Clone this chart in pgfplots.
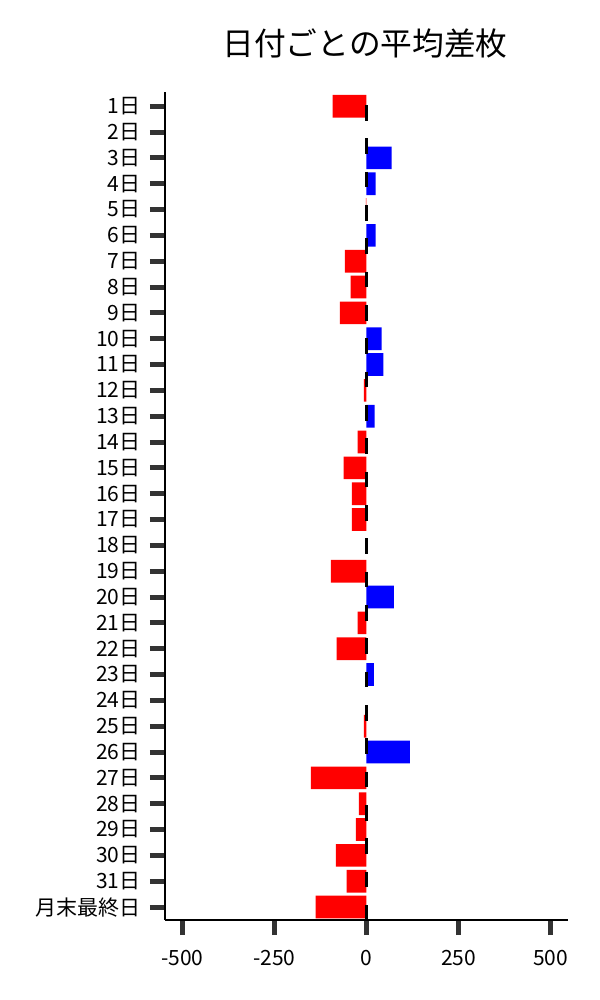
\documentclass[border=0pt]{standalone}
\usepackage{pgfplots}
\pgfplotsset{compat=1.18}
\usepackage{fontspec}
\setmainfont{Noto Sans CJK JP}
\definecolor{tickgray}{HTML}{333333}
\begin{document}
\begin{tikzpicture}
\useasboundingbox (0,0) rectangle (450pt,750pt);
\node[font=\fontsize{23.8pt}{28pt}\selectfont, anchor=center] at (273.75pt,717.75pt) {日付ごとの平均差枚};
\begin{axis}[
  at={(123.75pt,60pt)}, anchor=south west,
  scale only axis, width=302.25pt, height=621pt,
  xmin=-547, xmax=547, ymin=-0.5, ymax=31.55,
  axis x line*=bottom, axis y line*=left,
  axis line style={black, line width=0.9pt},
  xtick={-500,-250,0,250,500},
  xticklabels={-500,-250,0,250,500},
  ytick={0,...,31},
  yticklabels={月末最終日,31日,30日,29日,28日,27日,26日,25日,24日,23日,22日,21日,20日,19日,18日,17日,16日,15日,14日,13日,12日,11日,10日,9日,8日,7日,6日,5日,4日,3日,2日,1日},
  tick align=outside,
  major tick length=11.25pt,
  every tick/.style={tickgray, line width=3.75pt},
  tick label style={font=\fontsize{15.75pt}{18pt}\selectfont, black},
  xticklabel style={yshift=-8pt},
  yticklabel style={xshift=-3.5pt},
  clip=false,
]
\addplot[xbar, bar width=17pt, bar shift=0pt, fill=red, draw=none] coordinates {
(-92,31) (-2,27) (-59,25) (-43,24) (-72,23) (-7,20) (-24,18) (-62,17) (-40,16) (-40,15)
(-97,13) (-24,11) (-81,10) (-7,7) (-151,5) (-21,4) (-29,3) (-83,2) (-54,1) (-138,0)
};
\addplot[xbar, bar width=17pt, bar shift=0pt, fill=blue, draw=none] coordinates {
(68,29) (25,28) (25,26) (41,22) (46,21) (22,19) (74,12) (20,9) (118,6)
};
\draw[black, line width=1.7pt, dash pattern=on 11.6pt off 13.4pt, dash phase=15.2pt]
  (axis cs:0,31.55) -- (axis cs:0,-0.5);
\end{axis}
\end{tikzpicture}
\end{document}
